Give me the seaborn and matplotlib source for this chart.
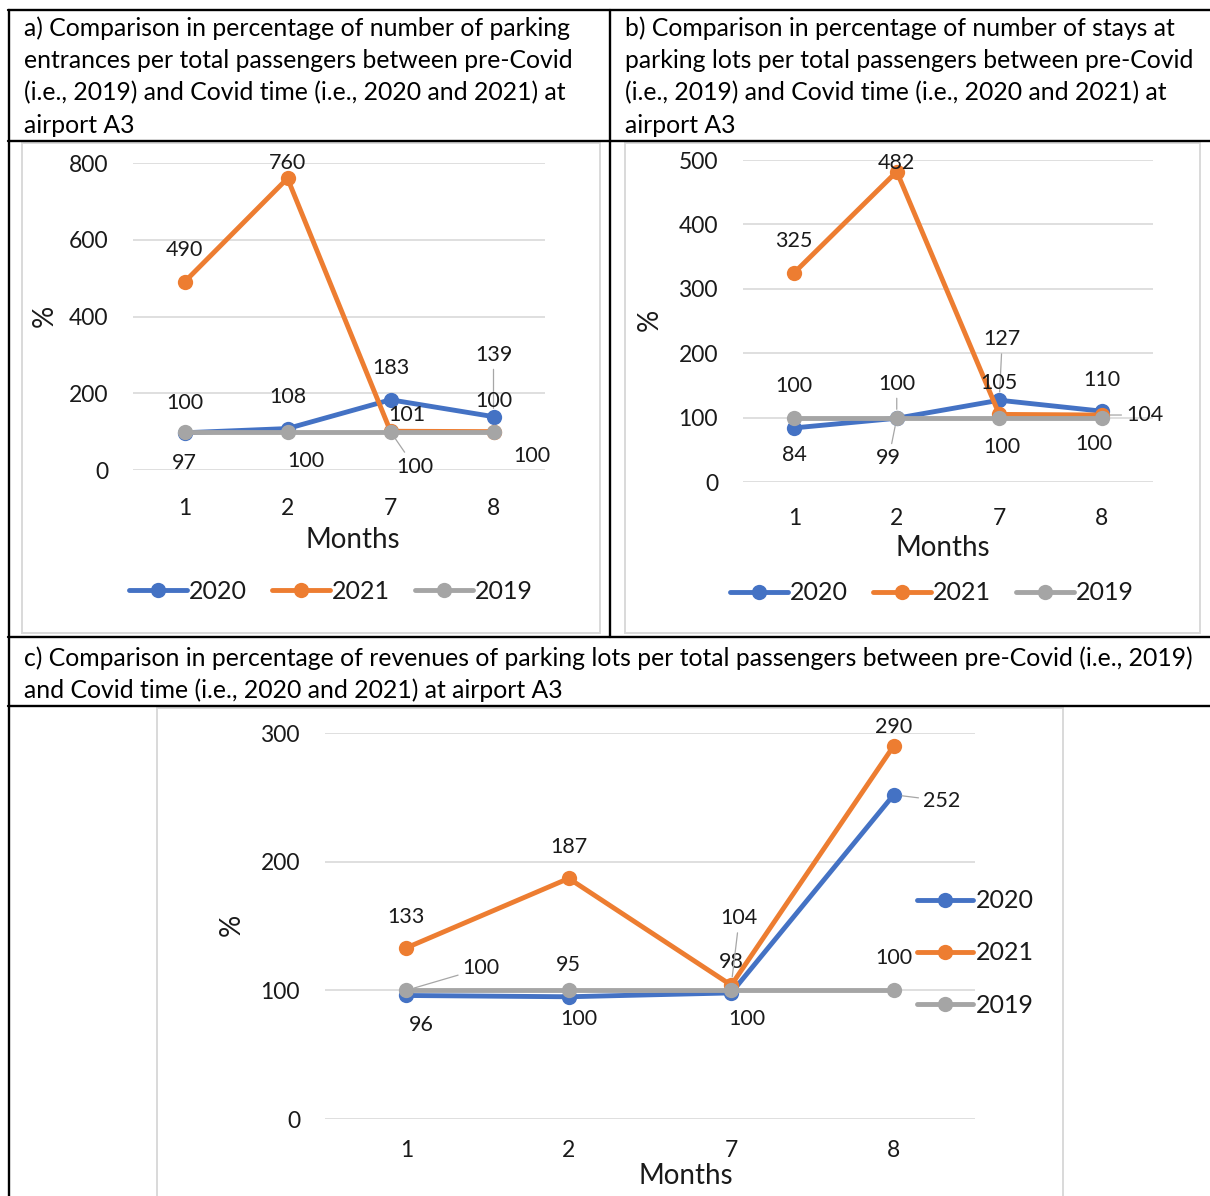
import matplotlib
matplotlib.use("Agg")
import matplotlib.pyplot as plt
import seaborn as sns
import pandas as pd
from matplotlib.lines import Line2D
from matplotlib.patches import Rectangle

# ---- data -------------------------------------------------------------
months = ["1", "2", "7", "8"]
years = ["2020", "2021", "2019"]

entrances_2020 = [97, 108, 183, 139]
entrances_2021 = [490, 760, 101, 100]
entrances_2019 = [100, 100, 100, 100]

stays_2020 = [84, 99, 127, 110]
stays_2021 = [325, 482, 105, 104]
stays_2019 = [100, 100, 100, 100]

revenues_2020 = [96, 95, 98, 252]
revenues_2021 = [133, 187, 104, 290]
revenues_2019 = [100, 100, 100, 100]

caption_a = ["a) Comparison in percentage of number of parking",
             "entrances per total passengers between pre-Covid",
             "(i.e., 2019) and Covid time (i.e., 2020 and 2021) at",
             "airport A3"]
caption_b = ["b) Comparison in percentage of number of stays at",
             "parking lots per total passengers between pre-Covid",
             "(i.e., 2019) and Covid time (i.e., 2020 and 2021) at",
             "airport A3"]
caption_c = ["c) Comparison in percentage of revenues of parking lots per total passengers between pre-Covid (i.e., 2019)",
             "and Covid time (i.e., 2020 and 2021) at airport A3"]

# ---- style ------------------------------------------------------------
sns.set_style("white")
plt.rcParams["font.family"] = ["Lato", "DejaVu Sans"]
palette = {"2020": "#4472C4", "2021": "#ED7D31", "2019": "#A5A5A5"}
GRID = "#D9D9D9"
TXT = "#1a1a1a"

W, H = 1210, 1196
fig = plt.figure(figsize=(W / 100, H / 100), dpi=100)


def fx(x):
    return x / W


def fy(y):
    return 1 - y / H


def hline(x0, x1, y, color="black", lw=1.7):
    fig.add_artist(Line2D([fx(x0), fx(x1)], [fy(y), fy(y)],
                          transform=fig.transFigure, color=color, lw=lw))


def vline(x, y0, y1, color="black", lw=1.7):
    fig.add_artist(Line2D([fx(x), fx(x)], [fy(y0), fy(y1)],
                          transform=fig.transFigure, color=color, lw=lw))


def chart_box(x0, y0, x1, y1):
    fig.add_artist(Rectangle((fx(x0), fy(y1)), (x1 - x0) / W, (y1 - y0) / H,
                             transform=fig.transFigure, facecolor="white",
                             edgecolor=GRID, lw=1.4, zorder=0))


def panel(box, ymax, ystep, s20, s21, s19, offsets, ylab_xy, months_xy,
          legend_kw, xpad=20):
    left, top, right, bottom = box
    ax = fig.add_axes([fx(left), fy(bottom), (right - left) / W, (bottom - top) / H])
    ax.patch.set_alpha(0)
    df = pd.DataFrame({
        "Month": months * 3,
        "Value": s20 + s21 + s19,
        "Year": ["2020"] * 4 + ["2021"] * 4 + ["2019"] * 4,
    })
    sns.lineplot(data=df, x="Month", y="Value", hue="Year", hue_order=years,
                 palette=palette, marker="o", markersize=11,
                 markeredgewidth=0, linewidth=3.5, errorbar=None, sort=False,
                 legend=False, ax=ax)
    ax.set_xlim(-0.5, 3.5)
    ax.set_ylim(0, ymax)
    ax.set_yticks(range(0, ymax + 1, ystep))
    ax.grid(axis="y", color=GRID, lw=1.2)
    ax.grid(axis="x", visible=False)
    ax.set_axisbelow(True)
    for sp in ax.spines.values():
        sp.set_visible(False)
    ax.tick_params(axis="y", length=0, pad=18, labelsize=16.5, labelcolor=TXT)
    ax.tick_params(axis="x", length=0, pad=xpad, labelsize=16.5, labelcolor=TXT)
    ax.set_xlabel("")
    ax.set_ylabel("")

    values = {"2020": s20, "2021": s21, "2019": s19}
    for year in years:
        for i, v in enumerate(values[year]):
            dx, dy, leader = offsets[(year, i)]
            kw = {}
            if leader:
                kw["arrowprops"] = dict(arrowstyle="-", color="#A6A6A6", lw=0.9,
                                        shrinkA=1, shrinkB=6)
            ax.annotate(str(v), xy=(i, v), xytext=(dx, dy),
                        textcoords="offset pixels", ha="center", va="center",
                        fontsize=15.5, color=TXT, zorder=5, **kw)

    fig.text(fx(ylab_xy[0]), fy(ylab_xy[1]), "%", rotation=90, ha="center",
             va="center", fontsize=20, color=TXT)
    fig.text(fx(months_xy[0]), fy(months_xy[1]), "Months", ha="center",
             va="center", fontsize=20, color=TXT)

    handles = ax.get_lines()[:3]
    ax.legend(handles, years, bbox_transform=fig.transFigure, frameon=False,
              fontsize=18, handletextpad=0.1, borderpad=0, borderaxespad=0,
              numpoints=1, labelcolor=TXT, **legend_kw)
    return ax


# ---- table frame --------------------------------------------------------
chart_box(22, 143, 600, 633)
chart_box(625, 143, 1200, 633)
chart_box(157, 708, 1063, 1200)

hline(8, 1210, 10)
vline(9, 10, 1196)
vline(610, 10, 637)
hline(8, 1210, 141)
hline(8, 1210, 637)
hline(8, 1210, 706)

CAP = 17.8
for k, line in enumerate(caption_a):
    fig.text(fx(24), fy(28.5 + k * 32.3), line, ha="left", va="center",
             fontsize=CAP, color="black")
for k, line in enumerate(caption_b):
    fig.text(fx(625), fy(28.5 + k * 32.3), line, ha="left", va="center",
             fontsize=CAP, color="black")
for k, line in enumerate(caption_c):
    fig.text(fx(24), fy(658 + k * 32.3), line, ha="left", va="center",
             fontsize=CAP, color="black")

# ---- panel a: parking entrances ------------------------------------------
off_a = {
    ("2020", 0): (0, -30, False), ("2020", 1): (0, 32, False),
    ("2020", 2): (0, 32, False), ("2020", 3): (0, 62, True),
    ("2021", 0): (0, 32, False), ("2021", 1): (0, 15, False),
    ("2021", 2): (16, 16, False), ("2021", 3): (0, 31, False),
    ("2019", 0): (0, 29, False), ("2019", 1): (18, -29, False),
    ("2019", 2): (24, -35, True), ("2019", 3): (38, -24, False),
}
panel((133, 163, 545, 470), 800, 200,
      entrances_2020, entrances_2021, entrances_2019, off_a,
      (45, 316), (353, 540),
      dict(loc="center", bbox_to_anchor=(fx(331), fy(591)), ncol=3,
           handlelength=2.3, columnspacing=1.0))

# ---- panel b: parking stays ----------------------------------------------
off_b = {
    ("2020", 0): (0, -27, False), ("2020", 1): (-8, -40, True),
    ("2020", 2): (3, 61, True), ("2020", 3): (0, 31, False),
    ("2021", 0): (0, 32, False), ("2021", 1): (0, 9, False),
    ("2021", 2): (0, 31, False), ("2021", 3): (43, 0, True),
    ("2019", 0): (0, 32, False), ("2019", 1): (0, 34, True),
    ("2019", 2): (3, -29, False), ("2019", 3): (-8, -26, False),
}
panel((743, 160, 1153, 482), 500, 100,
      stays_2020, stays_2021, stays_2019, off_b,
      (650, 320), (943, 548),
      dict(loc="center", bbox_to_anchor=(fx(932), fy(593)), ncol=3,
           handlelength=2.3, columnspacing=1.0), xpad=19)

# ---- panel c: parking revenues -------------------------------------------
off_c = {
    ("2020", 0): (15, -30, False), ("2020", 1): (0, 32, False),
    ("2020", 2): (0, 31, False), ("2020", 3): (48, -6, True),
    ("2021", 0): (0, 31, False), ("2021", 1): (0, 31, False),
    ("2021", 2): (8, 67, True), ("2021", 3): (0, 19, False),
    ("2019", 0): (75, 22, True), ("2019", 1): (10, -29, False),
    ("2019", 2): (16, -29, False), ("2019", 3): (0, 32, False),
}
panel((325, 733, 975, 1119), 300, 100,
      revenues_2020, revenues_2021, revenues_2019, off_c,
      (232, 925), (686, 1176),
      dict(loc="center left", bbox_to_anchor=(fx(917), fy(953)), ncol=1,
           handlelength=2.25, labelspacing=1.17), xpad=15)

fig.savefig("out.png", dpi=100)
